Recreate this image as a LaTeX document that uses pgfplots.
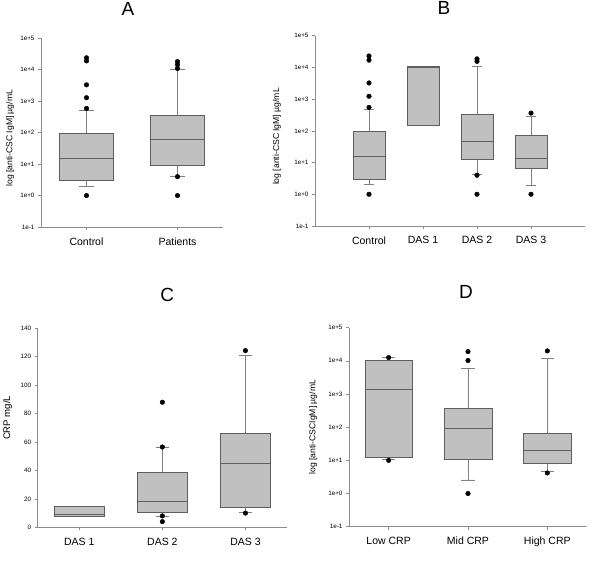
\documentclass[border=0pt]{standalone}
\usepackage{fontspec}
\setmainfont{Liberation Sans}
\usepackage{pgfplots}
\pgfplotsset{compat=1.18}
\usepgfplotslibrary{statistics}
\definecolor{boxfill}{HTML}{C0C0C0}
\definecolor{boxedge}{HTML}{5E5E5E}
\definecolor{whisk}{HTML}{808080}
\definecolor{axisgray}{HTML}{8C8C8C}
\pgfplotsset{
  panel/.style={
    scale only axis,
    clip=false,
    axis x line=bottom, axis y line=left,
    axis line style={draw=axisgray, -, line width=0.6pt},
    tick style={draw=axisgray, line width=0.5pt},
    tick align=outside,
    major tick length=3pt,
    minor tick num=0,
    yticklabel style={font=\fontsize{6.3}{7}\selectfont},
    xticklabel style={font=\fontsize{10.5}{12}\selectfont, yshift=-4pt},
    /pgf/number format/assume math mode=true,
    ylabel style={font=\fontsize{8.6}{10}\selectfont},
    title style={font=\fontsize{19}{22}\selectfont, at={(axis description cs:0.5,1)}, anchor=base},
    boxplot/draw direction=y,
    boxplot/box extend=0.6,
    boxplot/whisker extend=0.17,
    boxplot/every box/.style={draw=boxedge, fill=boxfill, line width=0.6pt},
    boxplot/every median/.style={draw=boxedge, line width=0.6pt},
    boxplot/every whisker/.style={draw=whisk, line width=0.5pt},
  },
  % values on the log panels are log10 of the concentration
  logpanel/.style={
    panel,
    ymin=-1, ymax=5,
    ytick={-1,0,1,2,3,4,5},
    yticklabels={1e-1,1e+0,1e+1,1e+2,1e+3,1e+4,1e+5},
  },
  bp/.style={draw=boxedge, fill=boxfill, mark=*, mark size=2.3pt,
    mark options={draw=black, fill=black, solid}},
}
\begin{document}
\begin{tikzpicture}
\path[use as bounding box] (0,0) rectangle (600pt,567pt);
% ---------------- A ----------------
\begin{axis}[logpanel,
  at={(41pt,340pt)}, anchor=south west,
  width=182pt, height=188.7pt,
  xmin=0.5, xmax=2.5,
  xtick={1,2}, xticklabels={Control,Patients},
  ylabel={log [anti-CSC IgM] µg/mL},
  ylabel style={at={(axis description cs:-0.170,0.47)}, anchor=center},
  title={A}, title style={yshift=17pt, xshift=-4pt},
]
\addplot[bp, boxplot prepared={draw position=1, lower whisker=0.30, lower quartile=0.48,
  median=1.20, upper quartile=1.98, upper whisker=2.70}]
  table[row sep=\\, y index=0] {y\\ 0\\ 2.77\\ 3.11\\ 3.52\\ 4.28\\ 4.38\\};
\addplot[bp, boxplot prepared={draw position=2, lower whisker=0.60, lower quartile=0.97,
  median=1.79, upper quartile=2.54, upper whisker=4.03}]
  table[row sep=\\, y index=0] {y\\ 0\\ 0.60\\ 4.04\\ 4.16\\ 4.26\\};
\end{axis}
% ---------------- B ----------------
\begin{axis}[logpanel,
  at={(315pt,341pt)}, anchor=south west,
  width=270pt, height=190.3pt,
  xmin=0, xmax=5,
  xtick={1,2,3,4}, xticklabels={Control,DAS 1,DAS 2,DAS 3},
  boxplot/whisker extend=0.2,
  ylabel={log [anti-CSC IgM] µg/mL},
  ylabel style={at={(axis description cs:-0.141,0.47)}, anchor=center},
  title={B}, title style={yshift=15pt, xshift=-6pt},
]
\addplot[bp, boxplot prepared={draw position=1, lower whisker=0.32, lower quartile=0.47,
  median=1.21, upper quartile=1.97, upper whisker=2.68}]
  table[row sep=\\, y index=0] {y\\ 0\\ 2.74\\ 3.09\\ 3.51\\ 4.23\\ 4.36\\};
\addplot[bp, boxplot prepared={draw position=2, lower whisker=2.18, lower quartile=2.18,
  median=4.00, upper quartile=4.04, upper whisker=4.04}]
  table[row sep=\\, y index=0] {y\\};
\addplot[bp, boxplot prepared={draw position=3, lower whisker=0.64, lower quartile=1.09,
  median=1.67, upper quartile=2.52, upper whisker=4.03}]
  table[row sep=\\, y index=0] {y\\ 0\\ 0.60\\ 4.19\\ 4.27\\};
\addplot[bp, boxplot prepared={draw position=4, lower whisker=0.28, lower quartile=0.82,
  median=1.14, upper quartile=1.87, upper whisker=2.45}]
  table[row sep=\\, y index=0] {y\\ 0\\ 2.56\\};
\end{axis}
% ---------------- C ----------------
\begin{axis}[panel,
  at={(37.7pt,39.7pt)}, anchor=south west,
  width=249.3pt, height=199pt,
  xmin=0.5, xmax=3.5, ymin=0, ymax=140,
  ytick={0,20,40,60,80,100,120,140},
  xtick={1,2,3}, xticklabels={DAS 1,DAS 2,DAS 3},
  ylabel={CRP mg/L},
  ylabel style={font=\fontsize{9.6}{11}\selectfont, at={(axis description cs:-0.121,0.55)}, anchor=center},
  title={C}, title style={yshift=21pt, xshift=5pt},
  boxplot/whisker extend=0.15,
]
\addplot[bp, boxplot prepared={draw position=1, lower whisker=8, lower quartile=8,
  median=9.1, upper quartile=14.8, upper whisker=14.8}]
  table[row sep=\\, y index=0] {y\\};
\addplot[bp, boxplot prepared={draw position=2, lower whisker=8, lower quartile=10.6,
  median=18.5, upper quartile=38.5, upper whisker=56.5}]
  table[row sep=\\, y index=0] {y\\ 4\\ 8\\ 56.5\\ 88\\};
\addplot[bp, boxplot prepared={draw position=3, lower whisker=10.5, lower quartile=14,
  median=45, upper quartile=66, upper whisker=121}]
  table[row sep=\\, y index=0] {y\\ 10\\ 124.3\\};
\end{axis}
% ---------------- D ----------------
\begin{axis}[logpanel,
  at={(349pt,40.3pt)}, anchor=south west,
  width=238pt, height=199pt,
  xmin=0.5, xmax=3.5,
  xtick={1,2,3}, xticklabels={Low CRP,Mid CRP,High CRP},
  ylabel={log [anti-CSCIgM] µg/mL},
  ylabel style={at={(axis description cs:-0.151,0.5)}, anchor=center},
  title={D}, title style={yshift=22.7pt, xshift=-2pt},
]
\addplot[bp, boxplot prepared={draw position=1, lower whisker=1.03, lower quartile=1.09,
  median=3.14, upper quartile=4.03, upper whisker=4.10}]
  table[row sep=\\, y index=0] {y\\ 1.00\\ 4.10\\};
\addplot[bp, boxplot prepared={draw position=2, lower whisker=0.41, lower quartile=1.03,
  median=1.97, upper quartile=2.56, upper whisker=3.78}]
  table[row sep=\\, y index=0] {y\\ 0\\ 4.01\\ 4.28\\};
\addplot[bp, boxplot prepared={draw position=3, lower whisker=0.66, lower quartile=0.92,
  median=1.31, upper quartile=1.83, upper whisker=4.07}]
  table[row sep=\\, y index=0] {y\\ 0.62\\ 4.30\\};
\end{axis}
\end{tikzpicture}
\end{document}
